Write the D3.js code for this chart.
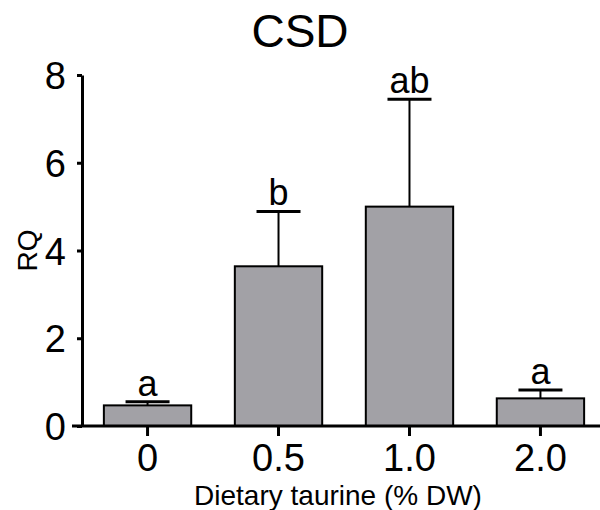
<!DOCTYPE html>
<html>
<head>
<meta charset="utf-8">
<script src="https://cdn.jsdelivr.net/npm/d3@7"></script>
<style>
  body { margin: 0; background: #fff; }
  text { font-family: Arial, "Liberation Sans", sans-serif; fill: #000; }
</style>
</head>
<body>
<svg id="Chart"></svg>
<script>
// data
let categories = ["0", "0.5", "1.0", "2.0"];
let means = [0.47, 3.64, 5.0, 0.63];
let errTops = [0.55, 4.89, 7.45, 0.82];
let letters = ["a", "b", "ab", "a"];
let yTicks = [0, 2, 4, 6, 8];

function getConfig() {
  let width = 600;
  let height = 510;
  let margin = { top: 75, left: 82, bottom: 84, right: -6 };
  let bodyHeight = height - margin.top - margin.bottom;
  let bodyWidth = width - margin.left - margin.right;
  let container = d3.select("#Chart")
    .attr("width", width)
    .attr("height", height);
  return { width, height, margin, bodyHeight, bodyWidth, container };
}

function getScales(config) {
  let { margin, bodyHeight, bodyWidth } = config;
  let xScale = d3.scaleBand()
    .domain(categories)
    .range([margin.left, margin.left + bodyWidth])
    .paddingInner(0.333)
    .paddingOuter(0.167);
  let yScale = d3.scaleLinear()
    .domain([0, 8])
    .range([margin.top + bodyHeight, margin.top]);
  return { xScale, yScale };
}

function drawBars(scales, config) {
  let { container } = config;
  let { xScale, yScale } = scales;
  let rows = categories.map((c, i) => ({ c, mean: means[i], top: errTops[i], letter: letters[i] }));
  let capW = 44;

  let g = container.append("g");

  // error line behind the bar
  g.selectAll(".err")
    .data(rows).enter().append("line")
    .attr("x1", d => xScale(d.c) + xScale.bandwidth() / 2)
    .attr("x2", d => xScale(d.c) + xScale.bandwidth() / 2)
    .attr("y1", d => yScale(d.mean))
    .attr("y2", d => yScale(d.top))
    .attr("stroke", "#000")
    .attr("stroke-width", 2);

  g.selectAll(".cap")
    .data(rows).enter().append("line")
    .attr("x1", d => xScale(d.c) + xScale.bandwidth() / 2 - capW / 2)
    .attr("x2", d => xScale(d.c) + xScale.bandwidth() / 2 + capW / 2)
    .attr("y1", d => yScale(d.top))
    .attr("y2", d => yScale(d.top))
    .attr("stroke", "#000")
    .attr("stroke-width", 3);

  g.selectAll("rect")
    .data(rows).enter().append("rect")
    .attr("x", d => xScale(d.c))
    .attr("y", d => yScale(d.mean))
    .attr("width", xScale.bandwidth())
    .attr("height", d => yScale(0) - yScale(d.mean))
    .attr("fill", "#a2a1a6")
    .attr("stroke", "#000")
    .attr("stroke-width", 2);

  g.selectAll(".letter")
    .data(rows).enter().append("text")
    .attr("x", d => xScale(d.c) + xScale.bandwidth() / 2)
    .attr("y", d => yScale(d.top) - 6)
    .attr("text-anchor", "middle")
    .style("font-size", "36px")
    .text(d => d.letter);
}

function drawAxes(scales, config) {
  let { container, margin, width } = config;
  let { xScale, yScale } = scales;

  let axisY = d3.axisLeft(yScale)
    .tickValues(yTicks)
    .tickSize(5)
    .tickSizeOuter(0)
    .tickPadding(11)
    .tickFormat(d3.format("d"));
  let gy = container.append("g")
    .attr("transform", `translate(${margin.left},0)`)
    .call(axisY);
  gy.select(".domain").attr("stroke-width", 3);
  gy.selectAll(".tick line").attr("stroke-width", 3);
  gy.selectAll(".tick text").style("font-size", "38px").attr("dy", "0.36em");

  let axisX = d3.axisBottom(xScale)
    .tickSize(10)
    .tickSizeOuter(0)
    .tickPadding(8);
  let gx = container.append("g")
    .attr("transform", `translate(0,${yScale(0)})`)
    .call(axisX);
  gx.select(".domain")
    .attr("d", `M${xScale.range()[0] - 10},0H${width}`)
    .attr("stroke-width", 3);
  gx.selectAll(".tick line").attr("stroke-width", 3);
  gx.selectAll(".tick text").style("font-size", "38px");

  // titles
  container.append("text")
    .attr("x", width / 2)
    .attr("y", 47)
    .attr("text-anchor", "middle")
    .style("font-size", "46px")
    .text("CSD");

  container.append("text")
    .attr("transform", `translate(37,${(yScale(0) + yScale(8)) / 2}) rotate(-90)`)
    .attr("text-anchor", "middle")
    .style("font-size", "28px")
    .text("RQ");

  container.append("text")
    .attr("x", 338)
    .attr("y", 505)
    .attr("text-anchor", "middle")
    .style("font-size", "28px")
    .text("Dietary taurine (% DW)");
}

let config = getConfig();
let scales = getScales(config);
drawBars(scales, config);
drawAxes(scales, config);
</script>
</body>
</html>
